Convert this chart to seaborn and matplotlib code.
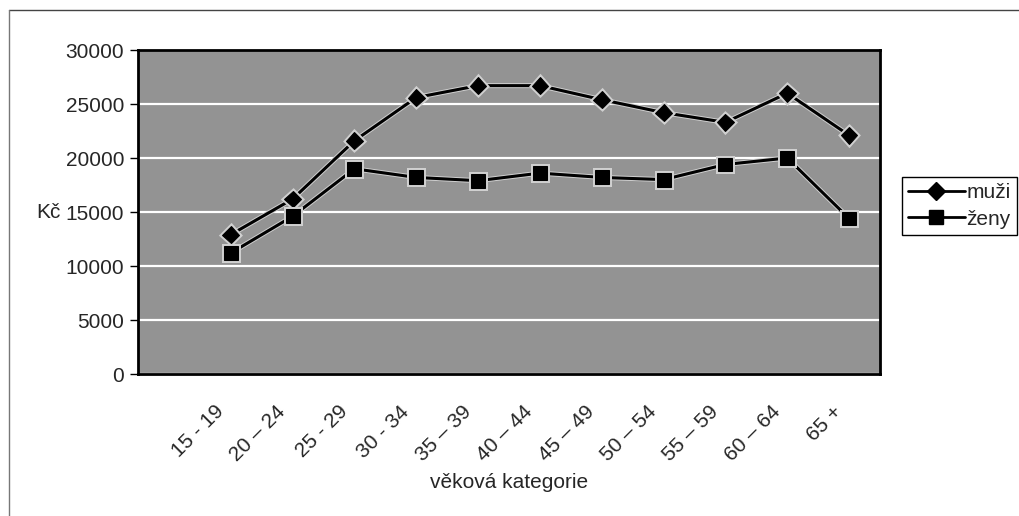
import matplotlib
matplotlib.use('Agg')
import matplotlib.pyplot as plt
import matplotlib.patheffects as pe
import matplotlib.transforms as mtrans
from matplotlib.lines import Line2D
import pandas as pd
import seaborn as sns
import numpy as np

kategorie = ['15 - 19', '20 – 24', '25 - 29', '30 - 34', '35 – 39', '40 – 44',
             '45 – 49', '50 – 54', '55 – 59', '60 – 64', '65 +']
muzi = [12900, 16200, 21600, 25600, 26700, 26700, 25400, 24200, 23300, 26000, 22100]
zeny = [11200, 14600, 19000, 18200, 17900, 18600, 18200, 18000, 19400, 20000, 14400]

# first category slot in the original chart is empty -> points sit at 1..11
pos = np.arange(1, len(kategorie) + 1)
df = pd.DataFrame({
    'pos': np.concatenate([pos, pos]),
    'Kč': muzi + zeny,
    'pohlaví': ['muži'] * len(muzi) + ['ženy'] * len(zeny),
})

sns.set_style('white')
plt.rcParams['font.family'] = ['Liberation Sans', 'DejaVu Sans']
FS = 15

fig = plt.figure(figsize=(10.19, 5.16), dpi=100)
ax = fig.add_axes([138 / 1019, 1 - 374 / 516, 742 / 1019, 324 / 516])
ax.set_facecolor('#939393')

sns.lineplot(data=df, x='pos', y='Kč', hue='pohlaví', style='pohlaví',
             markers={'muži': 'D', 'ženy': 's'}, dashes=False,
             palette=['black', 'black'], markersize=10, linewidth=2.2,
             markeredgecolor='black', ax=ax, legend=False)
for ln in ax.lines:
    ln.set_path_effects([pe.withStroke(linewidth=3.6, foreground='#d0d0d0')])
ax.lines[0].set_markersize(8.5)

ax.set_xlim(-0.5, 11.5)
ax.set_ylim(0, 30000)
ax.set_yticks(range(0, 30001, 5000))
ax.yaxis.grid(True, color='white', linewidth=1.6)
ax.set_axisbelow(True)

ax.set_xticks(pos)
ax.set_xticklabels(kategorie, rotation=45, ha='right', va='center',
                   rotation_mode='anchor')
ax.set_xticks(np.arange(-0.5, 12, 1), minor=True)
ax.tick_params(axis='x', which='major', length=0, pad=25, labelsize=FS)
ax.tick_params(axis='x', which='minor', length=6, width=1, direction='out', color='black')
ax.tick_params(axis='y', length=6, width=1, direction='out', color='black', labelsize=FS, pad=4)
ax.tick_params(axis='both', bottom=True, left=True)
off = mtrans.ScaledTranslation(-10 / 100, 0, fig.dpi_scale_trans)
for lab in ax.get_xticklabels():
    lab.set_transform(lab.get_transform() + off)

for s in ax.spines.values():
    s.set_visible(True)
    s.set_color('black')
    s.set_linewidth(2)

ax.set_xlabel('věková kategorie', fontsize=FS, labelpad=6)
ax.set_ylabel('Kč', fontsize=FS, rotation=0, ha='right', va='center')
ax.yaxis.set_label_coords(-0.104, 0.5)

handles = [Line2D([], [], color='black', lw=2, marker='D', markersize=9),
           Line2D([], [], color='black', lw=2, marker='s', markersize=10)]
fig.legend(handles, ['muži', 'ženy'], loc='upper left',
           bbox_to_anchor=(902 / 1019, 1 - 177 / 516), fontsize=FS,
           frameon=True, fancybox=False, edgecolor='black', framealpha=1,
           handlelength=2.7, handletextpad=0.1, borderpad=0.3,
           labelspacing=0.35, borderaxespad=0)

# outer chart border (top and left visible in the scan)
fig.add_artist(Line2D([9 / 1019, 1], [1 - 10 / 516, 1 - 10 / 516], color='#444444', lw=1))
fig.add_artist(Line2D([9 / 1019, 9 / 1019], [0, 1 - 10 / 516], color='#777777', lw=1))

fig.savefig('out.png', dpi=100)
